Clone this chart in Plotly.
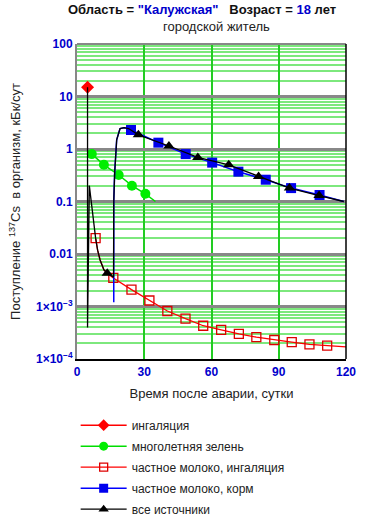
import plotly.graph_objects as go

# ---- data ----
inhal_days = [4.7]
inhal_vals = [15]

green_days = [6.6, 12, 18.6, 24.5, 30.5, 35]
green_vals = [0.8, 0.5, 0.32, 0.2, 0.14, 0.1]
green_mark = [0, 1, 2, 3, 4]

milk_inh_days = [8.3, 9.2, 10.3, 12, 13.5, 16.2, 24.3, 32.3, 40.3, 48.4, 56.3, 64.3,
                 72.2, 80, 88, 95.8, 103.7, 111.6, 120]
milk_inh_vals = [0.02, 0.0118, 0.0077, 0.005, 0.0043, 0.0035, 0.0021, 0.0013, 8.2e-4,
                 5.9e-4, 4.3e-4, 3.6e-4, 3.0e-4, 2.6e-4, 2.3e-4, 2.1e-4, 1.9e-4, 1.8e-4, 1.7e-4]
milk_inh_mark = [0, 5, 6, 7, 8, 9, 10, 11, 12, 13, 14, 15, 16, 17]

milk_feed_days = [16.4, 16.4, 16.8, 17.7, 19.2, 21, 23, 24.1, 36.3, 48.5, 60.3, 72, 84.2,
                  95.5, 108.2, 119]
milk_feed_vals = [0.0012, 0.1, 0.35, 1.5, 2.45, 2.55, 2.45, 2.3, 1.32, 0.80, 0.55, 0.37,
                  0.26, 0.18, 0.133, 0.1]
milk_feed_mark = [7, 8, 9, 10, 11, 12, 13, 14]

all_days = [4.7, 4.7, 5.5, 6.0, 6.6, 7.4, 8.3, 9.2, 10.3, 12, 13.5, 16.3, 16.4, 16.8,
            17.7, 19.2, 21, 23, 24.1, 27.4, 41, 53.9, 67.7, 81, 94.8, 108, 119]
all_vals = [15, 4e-4, 0.2, 0.13, 0.07, 0.035, 0.02, 0.0118, 0.0077, 0.005, 0.0043, 0.0036,
            0.1, 0.35, 1.5, 2.45, 2.55, 2.45, 2.3, 1.86, 1.14, 0.69, 0.50, 0.30, 0.18, 0.13, 0.1]
all_mark = [10, 19, 20, 21, 22, 23, 24, 25]

x_ticks = [0, 30, 60, 90, 120]
y_ticks = [1e-4, 1e-3, 0.01, 0.1, 1, 10, 100]
y_ticktext = ["1×10<sup>−4</sup>", "1×10<sup>−3</sup>", "0.01", "0.1", "1", "10", "100"]

names = ["ингаляция", "многолетняя зелень", "частное молоко, ингаляция",
         "частное молоко, корм", "все источники"]

FONT = "Liberation Sans, Arial"
fig = go.Figure()


def add_series(name, xs, ys, idx, lcolor, lwidth, msym, msize, mcolor, mline):
    fig.add_trace(go.Scatter(x=xs, y=ys, mode="lines", line=dict(color=lcolor, width=lwidth),
                             showlegend=False, hoverinfo="skip", legendgroup=name))
    fig.add_trace(go.Scatter(x=[xs[i] for i in idx], y=[ys[i] for i in idx], mode="markers",
                             marker=dict(symbol=msym, size=msize, color=mcolor, line=mline),
                             showlegend=False, legendgroup=name))
    fig.add_trace(go.Scatter(x=[None], y=[None], mode="lines+markers", name=name,
                             line=dict(color=lcolor, width=lwidth),
                             marker=dict(symbol=msym, size=msize - 1, color=mcolor, line=mline),
                             legendgroup=name))


add_series(names[0], inhal_days, inhal_vals, [0], "#ff0000", 1.5, "diamond", 10, "#ff0000",
           dict(width=0))
add_series(names[1], green_days, green_vals, green_mark, "#00dd00", 1.5, "circle", 10, "#00ee00",
           dict(width=0))
add_series(names[2], milk_inh_days, milk_inh_vals, milk_inh_mark, "#ff0000", 1.3, "square-open",
           9, "#dd0000", dict(width=1.3))
add_series(names[3], milk_feed_days, milk_feed_vals, milk_feed_mark, "#0000ff", 1.5, "square", 10,
           "#0000ee", dict(width=0))
add_series(names[4], all_days, all_vals, all_mark, "#000000", 1.3, "triangle-up", 10, "#000000",
           dict(width=0))

tick_font = dict(family=FONT, size=12, color="#0000cc", weight="bold")

fig.update_xaxes(range=[0, 120], tickvals=x_ticks, ticktext=[str(v) for v in x_ticks],
                 tickfont=tick_font, showgrid=True, gridcolor="#22cc22", gridwidth=1.5,
                 zeroline=False, showline=True, linecolor="#000000", linewidth=2, ticks="",
                 ticklabelstandoff=1, automargin=False,
                 title=dict(text="Время после аварии, сутки", standoff=10,
                            font=dict(family=FONT, size=13, color="#222")))
fig.update_yaxes(type="log", range=[-4, 2], tickvals=y_ticks, ticktext=y_ticktext,
                 tickfont=tick_font, showgrid=True, gridcolor="#888888", gridwidth=2.5,
                 zeroline=False, showline=True, linecolor="#888888", linewidth=2, ticks="",
                 automargin=False,
                 minor=dict(dtick="D1", showgrid=True, gridcolor="#7de87d", gridwidth=1.5,
                            ticks=""),
                 title=dict(text="Поступление <sup>137</sup>Cs  в организм, кБк/сут", standoff=12,
                            font=dict(family=FONT, size=13, color="#222")))

# frame edges and dark decade lines
fig.add_shape(type="line", xref="paper", yref="paper", x0=0, x1=1, y0=1, y1=1,
              line=dict(color="#888888", width=2))
fig.add_shape(type="line", xref="paper", yref="paper", x0=1, x1=1, y0=0, y1=1,
              line=dict(color="#000000", width=1.5))
for yv in [10, 0.01]:
    fig.add_shape(type="line", xref="paper", yref="y", x0=0, x1=1, y0=yv, y1=yv,
                  line=dict(color="#000000", width=1.5), layer="below")

# titles (plot area spans 44..359 px vertically, 77..346 px horizontally)
fig.add_annotation(
    text="<b>Область = <span style='color:#0000cc'>\"Калужская\"</span>   Возраст = "
         "<span style='color:#0000cc'>18</span> лет</b>",
    xref="paper", yref="paper", x=(202 - 77) / 269, y=(359 - 10) / 315,
    xanchor="center", yanchor="middle", showarrow=False,
    font=dict(family=FONT, size=13, color="#111"))
fig.add_annotation(
    text="городской житель",
    xref="paper", yref="paper", x=(216 - 77) / 269, y=(359 - 27) / 315,
    xanchor="center", yanchor="middle", showarrow=False,
    font=dict(family=FONT, size=13, color="#222"))

fig.update_layout(
    width=370, height=524,
    margin=dict(l=77, r=24, t=44, b=165, autoexpand=False),
    paper_bgcolor="white", plot_bgcolor="white",
    font=dict(family=FONT, size=12, color="#222"),
    legend=dict(x=-0.005, y=-0.164, xanchor="left", yanchor="top", bgcolor="rgba(0,0,0,0)",
                font=dict(family=FONT, size=12, color="#222"), itemwidth=46,
                tracegroupgap=2),
)

fig.write_html("out.html", config={"displayModeBar": False},
               post_script="document.body.style.margin='0';document.body.style.padding='0';")
